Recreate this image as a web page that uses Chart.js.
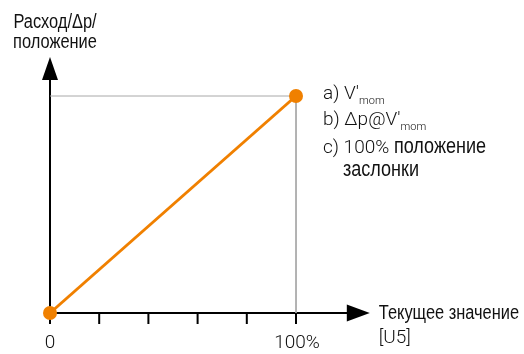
<!DOCTYPE html>
<html><head><meta charset="utf-8">
<script src="https://cdn.jsdelivr.net/npm/chart.js@4.4.1/dist/chart.umd.min.js"></script>
<style>html,body{margin:0;padding:0;background:#fff}#wrap{width:524px;height:354px;position:relative}</style>
</head><body><div id="wrap"><canvas id="c" width="524" height="354"></canvas></div>
<script>
// ---- data ----
const lineX = [0, 100];
const lineY = [0, 100];
const refX = [0, 100, 100];
const refY = [100, 100, 0];
const xTickValues = [0, 20, 40, 60, 80, 100];
const xTickLabels = ['0', '', '', '', '', '100%'];
const xArrowTip = 130;
const yArrowTip = 118;
const yAxisTitle = ['Расход/Δp/', 'положение'];
const xAxisTitle = ['Текущее значение', '[U5]'];
const noteA = ["a) V'", 'mom'];
const noteB = ["b) Δp@V'", 'mom'];
const noteC = ['c) 100% ', 'положение'];
const noteD = ['заслонки'];

const ORANGE = '#f08000';
const LIGHT = '300 19px Roboto';
const SUB = '300 11px Roboto';
const NARROW = '20px "Liberation Sans", Arial, sans-serif';
const NARROW_NOTE = '22px "Liberation Sans", Arial, sans-serif';
const NARROW_SX = 0.82;
const INK = '#111';

function measure(ctx, p) {
  ctx.font = p.f;
  return ctx.measureText(p.t).width * (p.n ? NARROW_SX : 1);
}
function drawPart(ctx, p, x, y) {
  ctx.font = p.f;
  if (p.n) {
    ctx.save(); ctx.translate(x, y); ctx.scale(NARROW_SX, 1);
    ctx.textAlign = 'left'; ctx.fillText(p.t, 0, 0); ctx.restore();
  } else {
    ctx.textAlign = 'left'; ctx.fillText(p.t, x, y);
  }
}
function runs(ctx, parts, x, y, align) {
  if (align === 'center') {
    const w = parts.reduce((s, p) => s + measure(ctx, p), 0);
    x -= w / 2;
  }
  for (const p of parts) {
    drawPart(ctx, p, x, y + (p.dy || 0));
    x += measure(ctx, p);
  }
}

const axesPlugin = {
  id: 'axesPlugin',
  beforeDatasetsDraw(chart) {
    const ctx = chart.ctx, xs = chart.scales.x, ys = chart.scales.y;
    const x0 = xs.getPixelForValue(0), y0 = ys.getPixelForValue(0);
    const xt = xs.getPixelForValue(xArrowTip), yt = ys.getPixelForValue(yArrowTip);
    ctx.save();
    ctx.strokeStyle = '#000'; ctx.fillStyle = '#000'; ctx.lineWidth = 2;
    ctx.beginPath(); ctx.moveTo(x0, y0); ctx.lineTo(xt - 22, y0); ctx.stroke();
    ctx.beginPath(); ctx.moveTo(xt, y0); ctx.lineTo(xt - 23, y0 - 8.5); ctx.lineTo(xt - 23, y0 + 8.5); ctx.closePath(); ctx.fill();
    ctx.beginPath(); ctx.moveTo(x0, y0); ctx.lineTo(x0, yt + 22); ctx.stroke();
    ctx.beginPath(); ctx.moveTo(x0, yt); ctx.lineTo(x0 - 8, yt + 23); ctx.lineTo(x0 + 8, yt + 23); ctx.closePath(); ctx.fill();
    xTickValues.forEach(v => {
      const px = xs.getPixelForValue(v);
      ctx.beginPath(); ctx.moveTo(px, y0); ctx.lineTo(px, y0 + 11); ctx.stroke();
    });
    ctx.restore();
  },
  afterDraw(chart) {
    const ctx = chart.ctx, xs = chart.scales.x, ys = chart.scales.y;
    const y0 = ys.getPixelForValue(0);
    const xt = xs.getPixelForValue(xArrowTip);
    const px = xs.getPixelForValue(100), py = ys.getPixelForValue(100);
    ctx.save();
    ctx.fillStyle = INK; ctx.textBaseline = 'alphabetic';
    xTickValues.forEach((v, i) => {
      if (xTickLabels[i]) runs(ctx, [{t: xTickLabels[i], f: LIGHT}], xs.getPixelForValue(v) + (i ? 1 : 0), y0 + 35, 'center');
    });
    runs(ctx, [{t: yAxisTitle[0], f: NARROW, n: 1}], 55, 28, 'center');
    runs(ctx, [{t: yAxisTitle[1], f: NARROW, n: 1}], 55, 48, 'center');
    runs(ctx, [{t: xAxisTitle[0], f: NARROW, n: 1}], xt + 9, y0 + 6);
    runs(ctx, [{t: xAxisTitle[1], f: LIGHT}], xt + 9, y0 + 30);
    const nx = px + 27, ny = py + 3;
    runs(ctx, [{t: noteA[0], f: LIGHT}, {t: noteA[1], f: SUB, dy: 5}], nx, ny);
    runs(ctx, [{t: noteB[0], f: LIGHT}, {t: noteB[1], f: SUB, dy: 5}], nx, ny + 26);
    runs(ctx, [{t: noteC[0], f: LIGHT}, {t: noteC[1], f: NARROW_NOTE, n: 1}], nx, ny + 54);
    runs(ctx, [{t: noteD[0], f: NARROW_NOTE, n: 1}], nx + 20, ny + 77);
    ctx.restore();
  }
};

new Chart(document.getElementById('c'), {
  type: 'scatter',
  data: {
    datasets: [
      {
        data: lineX.map((x, i) => ({x, y: lineY[i]})),
        showLine: true, borderColor: ORANGE, backgroundColor: ORANGE,
        borderWidth: 3, pointRadius: 7, pointHoverRadius: 7, pointBorderWidth: 0,
        order: 1
      },
      {
        data: refX.map((x, i) => ({x, y: refY[i]})),
        showLine: true, borderColor: '#a8a8a8', borderWidth: 1,
        pointRadius: 0, order: 2
      }
    ]
  },
  options: {
    responsive: false, animation: false, events: [],
    layout: {padding: {left: 50, right: 228, top: 96, bottom: 41}},
    plugins: {legend: {display: false}, tooltip: {enabled: false}},
    scales: {
      x: {type: 'linear', min: 0, max: 100, display: false},
      y: {type: 'linear', min: 0, max: 100, display: false}
    },
    clip: false
  },
  plugins: [axesPlugin]
});
</script></body></html>
